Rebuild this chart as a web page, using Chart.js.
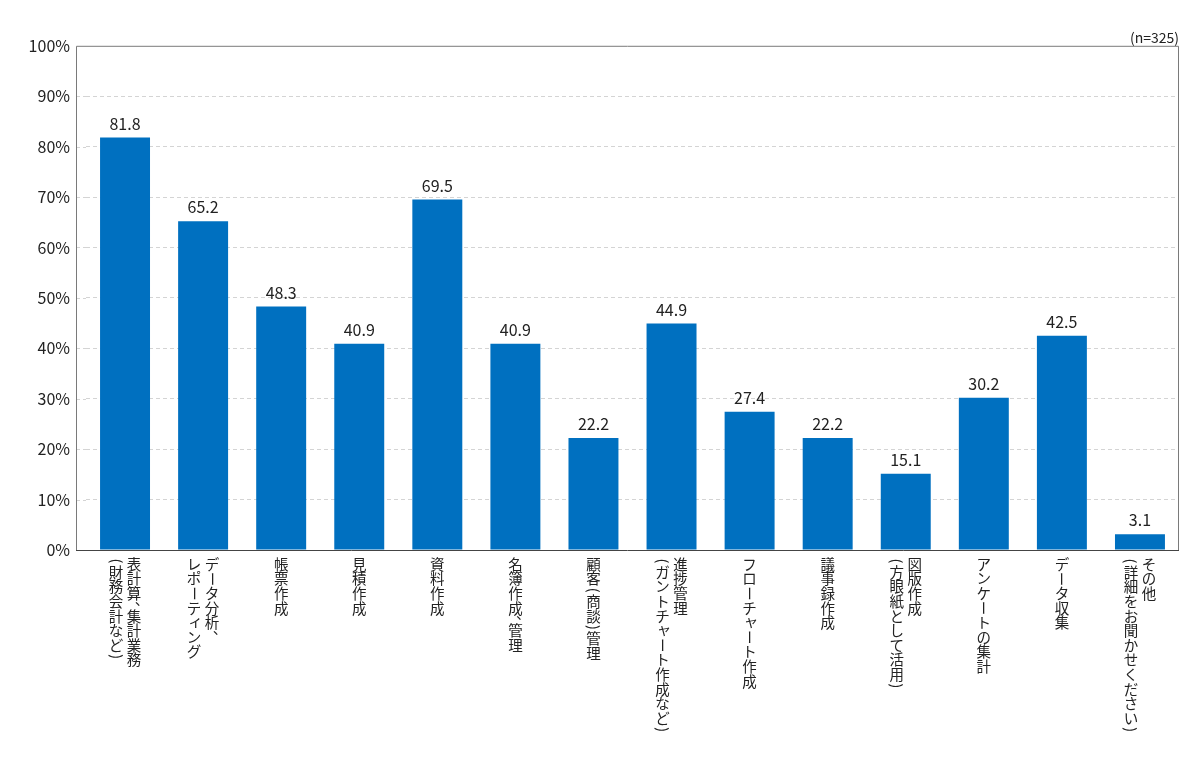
<!DOCTYPE html>
<html><head><meta charset="utf-8">
<script src="https://cdn.jsdelivr.net/npm/chart.js@4.4.1/dist/chart.umd.min.js"></script>
<style>html,body{margin:0;padding:0;background:#fff}#wrap{width:1200px;height:759px}</style>
</head><body><div id="wrap"><canvas id="c"></canvas></div>
<script>
const categories = [
  ['表計算、集計業務', '(財務会計など)'],
  ['データ分析、', 'レポーティング'],
  ['帳票作成'],
  ['見積作成'],
  ['資料作成'],
  ['名簿作成、管理'],
  ['顧客(商談)管理'],
  ['進捗管理', '(ガントチャート作成など)'],
  ['フローチャート作成'],
  ['議事録作成'],
  ['図版作成', '(方眼紙として活用)'],
  ['アンケートの集計'],
  ['データ収集'],
  ['その他', '(詳細をお聞かせください)']
];
const values = [81.8, 65.2, 48.3, 40.9, 69.5, 40.9, 22.2, 44.9, 27.4, 22.2, 15.1, 30.2, 42.5, 3.1];
const yTicks = [0,10,20,30,40,50,60,70,80,90,100];
const sampleNote = '(n=325)';

const FONT = '"Noto Sans CJK JP", "Noto Sans", sans-serif';
const FS = 14.5, PITCH = 14.6, COLGAP = 18, TOPGAP = 7;
const LEFT_EXT = 10;
const ROT = '()（）ー';
const SMALL = 'ャュョァィゥェォッ';

const labelPlugin = {
  id: 'vlabels',
  beforeDatasetsDraw(chart) {
    // extend dashed grid lines to the left frame
    const ctx = chart.ctx, ys = chart.scales.y, ca = chart.chartArea;
    ctx.save();
    ctx.strokeStyle = '#d4d4d4'; ctx.lineWidth = 1; ctx.setLineDash([4, 3]);
    yTicks.forEach(v => {
      if (v === 0 || v === 100) return;
      const y = Math.round(ys.getPixelForValue(v)) + 0.5;
      ctx.beginPath(); ctx.moveTo(ca.left - LEFT_EXT, y); ctx.lineTo(ca.left, y); ctx.stroke();
    });
    ctx.restore();
  },
  afterDraw(chart) {
    const ctx = chart.ctx, xs = chart.scales.x, ca = chart.chartArea;
    const L = ca.left - LEFT_EXT;
    ctx.save();
    ctx.strokeStyle = '#7a7a7a'; ctx.lineWidth = 1;
    ctx.beginPath();
    ctx.moveTo(L + 0.5, ca.bottom); ctx.lineTo(L + 0.5, ca.top + 0.5);
    ctx.lineTo(ca.right - 0.5, ca.top + 0.5); ctx.lineTo(ca.right - 0.5, ca.bottom);
    ctx.stroke();
    ctx.strokeStyle = '#444'; ctx.beginPath();
    ctx.moveTo(L, ca.bottom + 0.5); ctx.lineTo(ca.right, ca.bottom + 0.5); ctx.stroke();
    // value labels
    const meta = chart.getDatasetMeta(0);
    ctx.fillStyle = '#222'; ctx.font = '16px ' + FONT;
    ctx.textAlign = 'center'; ctx.textBaseline = 'bottom';
    meta.data.forEach((bar, i) => {
      ctx.fillText(values[i].toFixed(1), bar.x, bar.y - 6);
    });
    // vertical category labels
    ctx.font = FS + 'px ' + FONT; ctx.textBaseline = 'middle';
    categories.forEach((lines, i) => {
      const cx = xs.getPixelForValue(i);
      const n = lines.length;
      lines.forEach((line, j) => {
        const colX = n === 1 ? cx : cx + (j === 0 ? COLGAP / 2 : -COLGAP / 2);
        let y = ca.bottom + TOPGAP;
        for (const ch of line) {
          let adv = PITCH;
          if ('()'.includes(ch)) adv = PITCH * 0.55;
          if (ch === '、') adv = PITCH * 0.55;
          const cy = y + adv / 2;
          if (ROT.includes(ch)) {
            ctx.save(); ctx.translate(colX, cy); ctx.rotate(Math.PI / 2);
            ctx.fillText(ch, 0, 0); ctx.restore();
          } else if (ch === '、') {
            ctx.fillText(ch, colX + FS * 0.55, y - FS * 0.1);
          } else if (SMALL.includes(ch)) {
            ctx.fillText(ch, colX + FS * 0.1, cy - FS * 0.1);
          } else {
            ctx.fillText(ch, colX, cy);
          }
          y += adv;
        }
      });
    });
    ctx.restore();
  }
};

new Chart(document.getElementById('c'), {
  type: 'bar',
  data: {
    labels: categories.map(l => l.join('')),
    datasets: [{
      data: values,
      backgroundColor: '#0070c0',
      borderWidth: 0,
      categoryPercentage: 1,
      barPercentage: 0.64
    }]
  },
  options: {
    responsive: true,
    maintainAspectRatio: false,
    animation: false,
    layout: { padding: { top: 0, right: 21, bottom: 0, left: 0 } },
    plugins: {
      legend: { display: false },
      tooltip: { enabled: false },
      title: {
        display: true, text: sampleNote, align: 'end', color: '#222',
        font: { size: 14, family: FONT, weight: 'normal', lineHeight: 1.2 },
        padding: { top: 29, bottom: 0 }
      }
    },
    scales: {
      x: {
        grid: { display: false },
        border: { display: false },
        ticks: { display: false },
        afterFit(s) { s.height = 209; }
      },
      y: {
        min: 0, max: 100,
        afterBuildTicks(s) { s.ticks = yTicks.map(v => ({ value: v })); },
        afterFit(s) { s.width = 86; },
        grid: {
          drawTicks: false,
          color: ctx => (ctx.tick && (ctx.tick.value === 0 || ctx.tick.value === 100)) ? 'rgba(0,0,0,0)' : '#d4d4d4'
        },
        border: { display: false, dash: [4, 3] },
        ticks: {
          padding: 6 + LEFT_EXT, color: '#222',
          font: { size: 16, family: FONT },
          callback: v => v + '%'
        }
      }
    }
  },
  plugins: [labelPlugin]
});
</script></body></html>
